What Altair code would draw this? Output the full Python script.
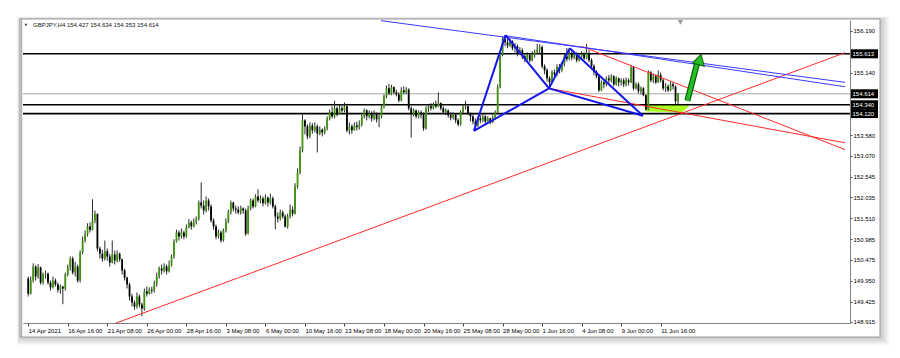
import altair as alt
import pandas as pd

# ---------------- data ----------------
first_open = 150.00
closes = [
149.62,149.95,150.30,150.05,150.28,149.90,150.10,150.12,149.90,149.78,
149.95,149.85,149.72,149.80,149.75,150.10,150.28,150.50,150.15,150.30,
149.95,150.65,150.95,151.10,151.30,151.22,151.45,151.62,150.75,150.62,
150.50,150.68,150.55,150.40,150.60,150.45,150.62,150.48,150.20,150.02,
149.85,149.55,149.40,149.30,149.55,149.35,149.25,149.68,149.62,149.72,
149.70,149.85,150.05,150.25,150.20,150.30,150.18,150.32,150.55,150.92,
151.15,151.05,151.15,151.05,151.28,151.40,151.30,151.42,151.48,151.90,
151.82,151.70,151.95,151.80,151.45,151.30,151.05,151.15,150.95,151.20,
151.42,151.65,151.90,151.75,151.72,151.65,151.75,151.70,151.12,151.75,
151.95,151.80,152.05,151.95,152.00,151.88,152.02,151.90,152.00,151.80,
151.55,151.50,151.65,151.55,151.30,151.55,151.72,151.62,152.30,152.65,
153.20,153.95,153.80,153.55,153.82,153.70,153.80,153.62,153.72,153.65,
153.75,154.00,154.15,154.05,154.25,154.10,154.25,154.20,154.30,153.70,
153.80,153.70,153.82,153.78,153.85,154.05,154.20,154.05,154.12,154.00,
154.10,153.98,154.05,154.30,154.55,154.75,154.62,154.78,154.65,154.60,
154.45,154.70,154.65,154.72,154.25,154.10,154.20,154.05,154.15,154.10,
153.75,154.25,154.30,154.25,154.35,154.30,154.38,154.25,154.15,154.20,
154.08,154.02,154.10,153.95,153.85,154.15,154.28,154.30,154.12,154.05,
153.92,153.82,154.00,153.95,154.05,153.92,154.00,153.90,154.02,154.15,
154.78,155.61,155.98,155.90,155.82,155.92,155.75,155.80,155.62,155.70,
155.55,155.48,155.58,155.45,155.60,155.65,155.72,155.78,155.30,155.20,
155.00,154.90,155.15,155.10,155.28,155.20,155.35,155.55,155.48,155.62,
155.52,155.60,155.45,155.55,155.60,155.50,155.62,155.45,155.30,155.15,
155.05,154.70,154.90,154.85,155.00,154.95,155.05,154.85,155.00,154.90,
154.95,154.85,154.95,154.90,155.28,154.75,154.85,154.68,154.75,154.58,
154.22,155.15,154.95,155.05,154.90,155.08,154.95,154.75,154.80,154.70,
154.85,154.80,154.427,154.614]
highs = [
150.05,150.05,150.38,150.33,150.36,150.30,150.15,150.20,150.15,149.95,
150.05,150.00,149.90,149.85,149.82,150.15,150.35,150.55,150.55,150.42,
150.35,150.70,151.05,151.20,151.38,151.40,151.98,151.70,151.60,150.80,
150.72,150.95,150.75,150.62,150.95,150.70,150.70,150.65,150.50,150.25,
150.05,149.90,149.62,149.45,149.65,149.60,149.40,149.75,149.80,149.78,
149.80,149.95,150.15,150.30,150.35,150.38,150.35,150.45,150.60,150.98,
151.22,151.20,151.25,151.20,151.35,151.48,151.45,151.50,151.55,151.95,
152.40,151.95,152.05,152.00,151.85,151.50,151.35,151.22,151.20,151.25,
151.50,151.72,151.95,151.92,151.82,151.80,151.82,151.78,151.75,151.82,
152.00,152.00,152.10,152.23,152.08,152.05,152.10,152.05,152.12,152.05,
151.85,151.65,151.72,151.70,151.60,151.62,151.85,151.80,152.38,152.75,
153.30,154.10,153.98,153.85,153.90,153.88,153.90,153.85,153.80,153.75,
153.80,154.05,154.22,154.30,154.44,154.30,154.35,154.36,154.40,154.32,
153.90,153.85,153.90,153.92,153.95,154.10,154.25,154.23,154.20,154.18,
154.20,154.15,154.12,154.35,154.60,154.82,154.86,154.84,154.80,154.72,
154.65,154.78,154.80,154.78,154.75,154.30,154.25,154.22,154.20,154.20,
154.15,154.30,154.36,154.38,154.40,154.45,154.65,154.40,154.30,154.25,
154.22,154.15,154.15,154.12,154.00,154.20,154.35,154.44,154.32,154.15,
154.10,154.00,154.05,154.08,154.10,154.08,154.05,154.02,154.08,154.20,
154.85,155.68,156.04,156.07,155.98,155.98,155.95,155.88,155.85,155.78,
155.75,155.62,155.65,155.62,155.68,155.72,155.86,155.85,155.82,155.35,
155.25,155.05,155.20,155.22,155.35,155.36,155.40,155.62,155.76,155.70,
155.68,155.66,155.65,155.60,155.68,155.65,155.86,155.70,155.50,155.35,
155.20,155.10,154.95,154.95,155.05,155.08,155.10,155.08,155.05,155.02,
155.00,155.00,155.02,155.00,155.34,155.30,154.90,154.90,154.80,154.78,
154.60,155.20,155.18,155.12,155.10,155.20,155.15,155.00,154.88,154.85,
154.92,154.90,154.82,154.634]
lows = [
149.55,149.60,149.90,149.95,150.00,149.85,149.85,150.00,149.85,149.70,
149.75,149.80,149.65,149.62,149.36,149.70,150.05,150.20,150.10,150.05,
149.90,149.90,150.60,150.90,151.05,151.15,151.20,151.38,150.68,150.50,
150.42,150.45,150.45,150.30,150.38,150.35,150.40,150.42,150.10,149.95,
149.75,149.45,149.30,149.22,149.25,149.28,149.06,149.20,149.55,149.60,
149.62,149.65,149.80,150.00,150.10,150.15,150.10,150.15,150.30,150.50,
150.90,150.95,151.00,150.98,151.02,151.25,151.22,151.28,151.35,151.45,
151.75,151.60,151.65,151.70,151.40,151.22,150.98,151.00,150.90,150.92,
151.15,151.38,151.60,151.68,151.62,151.60,151.60,151.62,151.06,151.10,
151.70,151.75,151.78,151.90,151.88,151.80,151.85,151.80,151.85,151.75,
151.23,151.40,151.45,151.50,151.27,151.25,151.50,151.55,151.60,152.25,
152.60,153.15,153.60,153.48,153.50,153.62,153.65,153.15,153.58,153.55,
153.60,153.70,153.95,154.00,154.00,154.05,154.10,154.15,154.15,153.65,
153.60,153.62,153.70,153.70,153.72,153.80,154.00,153.95,154.00,153.92,
153.95,153.90,153.78,154.00,154.25,154.50,154.58,154.58,154.60,154.55,
154.40,154.42,154.60,154.60,154.20,153.52,154.05,154.00,154.00,154.00,
153.69,153.72,154.15,154.20,154.22,154.25,154.28,154.20,154.10,154.08,
154.02,153.95,153.97,153.88,153.80,153.82,154.10,154.22,154.08,153.92,
153.85,153.70,153.78,153.88,153.90,153.86,153.88,153.85,153.88,153.98,
154.10,154.75,155.55,155.80,155.75,155.78,155.70,155.65,155.55,155.58,
155.48,155.40,155.45,155.40,155.42,155.52,155.60,155.62,155.25,155.10,
154.92,154.74,154.88,155.02,155.05,155.12,155.15,155.30,155.42,155.45,
155.45,155.48,155.40,155.42,155.50,155.45,155.48,155.40,155.22,155.08,
155.00,154.66,154.68,154.75,154.80,154.85,154.90,154.80,154.82,154.80,
154.82,154.78,154.80,154.82,154.88,154.70,154.72,154.62,154.60,154.55,
154.20,154.20,154.90,154.88,154.86,154.88,154.90,154.70,154.66,154.66,
154.68,154.72,154.36,154.353]

x_tick_labels = ['14 Apr 2021', '16 Apr 16:00', '21 Apr 08:00', '26 Apr 00:00', '28 Apr 16:00',
                 '3 May 08:00', '6 May 00:00', '10 May 16:00', '13 May 08:00', '18 May 00:00',
                 '20 May 16:00', '25 May 08:00', '28 May 00:00', '1 Jun 16:00', '4 Jun 08:00',
                 '9 Jun 00:00', '11 Jun 16:00']
bars_per_label = 16
y_tick_values = [156.19, 155.14, 153.58, 153.07, 152.545, 152.035, 151.51, 150.985,
                 150.475, 149.95, 149.425, 148.915]
level_lines = [155.613, 154.340, 154.120]
bid_line = 154.614
price_boxes = [155.613, 154.614, 154.340, 154.120]
title_text = 'GBPJPY,H4  154.427 154.634 154.353 154.614'

# trend lines: (bar0, price0, bar1, price1)
blue_channel = [(142.8, 156.44, 330.6, 154.90), (193.2, 156.065, 330.6, 154.79)]
red_lines = [(34.8, 148.87, 330.6, 155.64), (224.0, 155.80, 330.6, 153.22),
             (210.8, 154.75, 330.6, 153.39)]
pattern_bar = [180.4, 193.2, 210.8, 219.2, 248.8]
pattern_price = [153.69, 156.08, 154.75, 155.75, 154.065]
pattern_edges = [(0, 1), (1, 2), (2, 3), (3, 4), (0, 2), (2, 4)]
zone_bar = [250.0, 264.8, 268.0]
zone_top = [154.34, 154.34, 154.34]
zone_bottom = [154.17, 154.15, 154.34]
arrow_bar = [266.8, 270.8]
arrow_price = [154.44, 155.39]
arrow_head = (271.8, 155.47)
shift_marker = (264.0, 156.40)

# ---------------- tables ----------------
opens = [first_open] + closes[:-1]
candles = pd.DataFrame({
    'i': list(range(len(closes))), 'open': opens, 'close': closes,
    'high': highs, 'low': lows,
})
candles['up'] = candles['close'] >= candles['open']

def seg_table(segs):
    rows = []
    for k, (a, b, c, d) in enumerate(segs):
        rows.append({'id': k, 'o': 0, 'i': a, 'p': b})
        rows.append({'id': k, 'o': 1, 'i': c, 'p': d})
    return pd.DataFrame(rows)

blue_df = seg_table(blue_channel)
red_df = seg_table(red_lines)
pat_df = seg_table([(pattern_bar[a], pattern_price[a], pattern_bar[b], pattern_price[b])
                    for a, b in pattern_edges])
zone_df = pd.DataFrame({'i': zone_bar, 't': zone_top, 'b': zone_bottom})
arrow_df = pd.DataFrame({'i': arrow_bar, 'p': arrow_price})
head_df = pd.DataFrame({'i': [arrow_head[0]], 'p': [arrow_head[1]]})
marker_df = pd.DataFrame({'i': [shift_marker[0]], 'p': [shift_marker[1]]})
levels_df = pd.DataFrame({'p': level_lines})
bid_df = pd.DataFrame({'p': [bid_line]})
boxes_df = pd.DataFrame({'p': price_boxes})
one = pd.DataFrame({'a': [0]})

W, H = 827, 303
xs = alt.Scale(domain=[-0.1, 330.6], nice=False, zero=False)
ys = alt.Scale(domain=[148.89, 156.457], nice=False, zero=False)
FONT = 'Liberation Sans'

label_expr = '[' + ','.join("'" + s + "'" for s in x_tick_labels) + '][round(datum.value/%d)]' % bars_per_label
x_axis = alt.Axis(values=[k * bars_per_label for k in range(len(x_tick_labels))], labelExpr=label_expr,
                  labelAlign='left', labelFontSize=6, labelFont=FONT, tickSize=3, labelPadding=1,
                  domainColor='#808080', tickColor='#404040', labelColor='#000000', grid=False,
                  labelOverlap=False, labelFlush=False, zindex=1, title=None)
y_axis = alt.Axis(orient='right', values=y_tick_values, format='.3f', labelFontSize=6, labelFont=FONT,
                  tickSize=2, labelPadding=1, domainColor='#808080', tickColor='#404040',
                  labelColor='#000000', grid=False, labelOverlap=False, labelFlush=False, zindex=1, title=None)

def X(f='i'):
    return alt.X(f, type='quantitative', scale=xs, axis=x_axis, title=None)

def Y(f='p'):
    return alt.Y(f, type='quantitative', scale=ys, axis=y_axis, title=None)

# ---------------- window frame decoration ----------------
layers = []
for k in range(1, 7):
    layers.append(alt.Chart(one).mark_rect(fill='#000000', opacity=0.035, clip=False).encode(
        x=alt.value(-3 - k * 0.5), x2=alt.value(857 + k * 1.5),
        y=alt.value(-1 - k * 0.4), y2=alt.value(317 + k * 1.3)))
layers.append(alt.Chart(one).mark_rect(fill='#ffffff', stroke='#9a9a9a', strokeWidth=1, clip=False).encode(
    x=alt.value(-3), x2=alt.value(857), y=alt.value(-1), y2=alt.value(317)))
layers.append(alt.Chart(one).mark_rule(color='#b0b0b0', strokeWidth=1.5, clip=False).encode(
    x=alt.value(-1.5), y=alt.value(-1), y2=alt.value(317)))

# ---------------- chart content ----------------
layers.append(alt.Chart(zone_df).mark_area(color='#aaff22', opacity=1, clip=True).encode(
    x=X('i'), y=Y('t'), y2=alt.Y2('b')))
layers.append(alt.Chart(bid_df).mark_rule(color='#a8a8a8', strokeWidth=1).encode(y=Y('p')))
layers.append(alt.Chart(levels_df).mark_rule(color='#000000', strokeWidth=1.6).encode(y=Y('p')))
layers.append(alt.Chart(candles).mark_rule(color='#2a2a2a', strokeWidth=1).encode(
    x=X('i'), y=Y('low'), y2=alt.Y2('high')))
layers.append(alt.Chart(candles).mark_bar(width=1.8).encode(
    x=X('i'), y=Y('open'), y2=alt.Y2('close'),
    color=alt.Color('up:N', scale=alt.Scale(domain=[True, False], range=['#3f9410', '#000000']), legend=None)))
layers.append(alt.Chart(red_df).mark_line(color='#ff2a2a', strokeWidth=1, clip=True).encode(
    x=X('i'), y=Y('p'), detail='id:N', order='o:Q'))
layers.append(alt.Chart(blue_df).mark_line(color='#3a3aff', strokeWidth=1, clip=True).encode(
    x=X('i'), y=Y('p'), detail='id:N', order='o:Q'))
layers.append(alt.Chart(pat_df).mark_line(color='#1515ee', strokeWidth=2, clip=True).encode(
    x=X('i'), y=Y('p'), detail='id:N', order='o:Q'))
layers.append(alt.Chart(arrow_df).mark_line(color='#0a5a0a', strokeWidth=6, strokeCap='butt').encode(
    x=X('i'), y=Y('p')))
layers.append(alt.Chart(arrow_df).mark_line(color='#22c022', strokeWidth=3.6, strokeCap='butt').encode(
    x=X('i'), y=Y('p')))
layers.append(alt.Chart(head_df).mark_point(shape='triangle-up', size=150, filled=True, fill='#22c022',
                                             stroke='#0a5a0a', strokeWidth=1, angle=15, opacity=1).encode(
    x=X('i'), y=Y('p')))
layers.append(alt.Chart(marker_df).mark_point(shape='triangle-down', size=30, filled=True,
                                               color='#9a9aa8', opacity=1).encode(x=X('i'), y=Y('p')))
# price label boxes on the right axis
layers.append(alt.Chart(boxes_df).mark_rect(color='#000000', yOffset=-4.5, y2Offset=4.5, clip=False).encode(
    x=alt.value(828), x2=alt.value(855), y=Y('p'), y2=alt.Y2('p')))
layers.append(alt.Chart(boxes_df).mark_text(color='#ffffff', align='left', baseline='middle', fontSize=6,
                                             font=FONT, clip=False).encode(
    x=alt.value(829.5), y=Y('p'), text=alt.Text('p:Q', format='.3f')))
# title in the corner
layers.append(alt.Chart(one).mark_point(shape='triangle-down', size=10, filled=True, color='#000000').encode(
    x=alt.value(3), y=alt.value(5)))
layers.append(alt.Chart(one).mark_text(text=title_text, align='left', baseline='middle', fontSize=6,
                                        font=FONT, color='#111111').encode(x=alt.value(10), y=alt.value(5)))

chart = alt.layer(*layers).properties(
    width=W, height=H,
    padding={'left': 23, 'top': 20, 'right': 50, 'bottom': 35},
    autosize=alt.AutoSizeParams(type='none'),
    background='#ffffff',
).configure_view(stroke='#808080', strokeWidth=1)

chart.save('out.html', embed_options={'renderer': 'svg', 'actions': False})
